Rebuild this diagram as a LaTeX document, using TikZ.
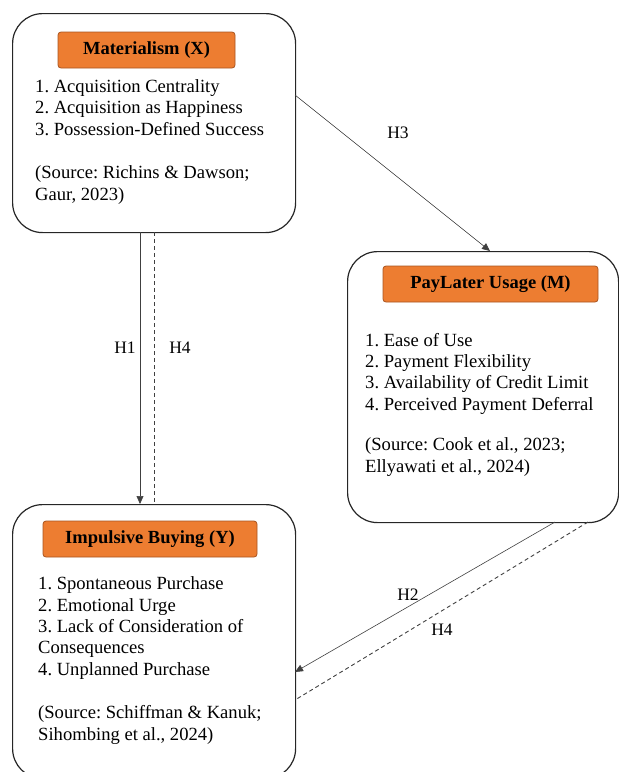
\documentclass[tikz,border=0pt]{standalone}
\usepackage{fontspec}
\setmainfont{Liberation Serif}
\usetikzlibrary{arrows.meta}
\definecolor{orng}{HTML}{ED7D31}
\definecolor{orngb}{HTML}{A85520}
\begin{document}
\frenchspacing
\begin{tikzpicture}[x=1pt,y=-1pt,
 bigbox/.style={draw=black!85, line width=1.2pt, rounded corners=30pt, inner sep=0pt},
 tag/.style={draw=orngb, fill=orng, line width=0.8pt, rounded corners=3pt, font=\bfseries\fontsize{18.5}{21}\selectfont, inner sep=0pt},
 txt/.style={anchor=base west, align=left, font=\frenchspacing\fontsize{18.6}{21.3}\selectfont, inner sep=0pt},
 hl/.style={font=\fontsize{17.5}{19}\selectfont, inner sep=0pt},
 conn/.style={draw=black!75, line width=0.6pt, -{Triangle[length=8pt,width=7pt]}},
 dconn/.style={draw=black!75, line width=0.9pt, dash pattern=on 4pt off 3pt}]
\useasboundingbox (0,0) rectangle (619,772);
\clip (0,0) rectangle (619,772);
% boxes
\node[bigbox, minimum width=283pt, minimum height=219pt, anchor=north west] (X) at (12,13) {};
\node[bigbox, minimum width=271pt, minimum height=271pt, anchor=north west] (M) at (347,251) {};
\node[bigbox, minimum width=283pt, minimum height=274pt, anchor=north west] (Y) at (12,504) {};
% tags
\node[tag, minimum width=177pt, minimum height=36pt] (tX) at (146.5,50) {Materialism (X)};
\node[tag, minimum width=215pt, minimum height=36pt] (tM) at (490.5,284) {PayLater Usage (M)};
\node[tag, minimum width=214pt, minimum height=36pt] (tY) at (150,539) {Impulsive Buying (Y)};
% texts (anchored at the baseline of their last line)
\node[txt] (lX) at (35,135) {1. Acquisition Centrality\\2. Acquisition as Happiness\\3. Possession-Defined Success};
\node[txt] (sX) at (35,200) {(Source: Richins \& Dawson;\\Gaur, 2023)};
\node[txt] (lM) at (365,410) {1. Ease of Use\\2. Payment Flexibility\\3. Availability of Credit Limit\\4. Perceived Payment Deferral};
\node[txt] (sM) at (365,472) {(Source: Cook et al., 2023;\\Ellyawati et al., 2024)};
\node[txt] (lY) at (38,675) {1. Spontaneous Purchase\\2. Emotional Urge\\3. Lack of Consideration of\\Consequences\\4. Unplanned Purchase};
\node[txt] (sY) at (38,740) {(Source: Schiffman \& Kanuk;\\Sihombing et al., 2024)};
% connector end points
\coordinate (h1s) at (140,232);
\coordinate (h1e) at (140,504);
\coordinate (h4s) at (154,232);
\coordinate (h4e) at (154,504);
\coordinate (h3s) at (295,95);
\coordinate (h3e) at (490,251);
\coordinate (h2s) at (555,522);
\coordinate (h2e) at (295,672);
\coordinate (h4bs) at (588,522);
\coordinate (h4be) at (295,700);
% connectors
\draw[conn] (h1s) -- (h1e);
\draw[dconn] (h4s) -- (h4e);
\draw[conn] (h3s) -- (h3e);
\draw[conn] (h2s) -- (h2e);
\draw[dconn] (h4bs) -- (h4be);
% labels
\node[hl] (L1) at (125,348) {H1};
\node[hl] (L4a) at (180,348) {H4};
\node[hl] (L3) at (398,133) {H3};
\node[hl] (L2) at (408,595) {H2};
\node[hl] (L4b) at (442,630) {H4};
\end{tikzpicture}
\end{document}
